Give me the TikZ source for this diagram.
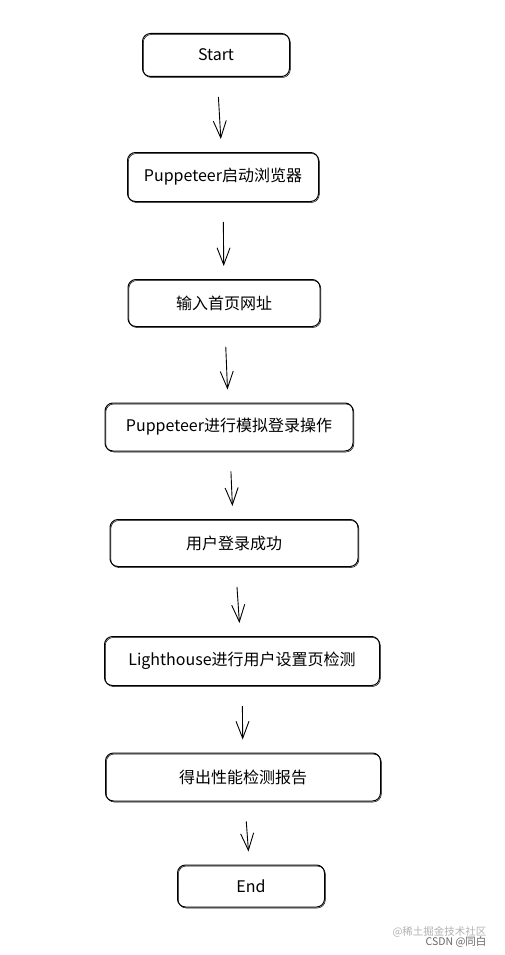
\documentclass[tikz,border=0pt]{standalone}
\usepackage{fontspec}
\setmainfont{Noto Sans CJK SC}
\usetikzlibrary{arrows.meta}
\tikzset{every node/.style={align=center}, >= {Straight Barb[length=17pt,width=13pt]}, font=\fontsize{16}{19}\selectfont}
\tikzset{stepbox/.style={draw, line width=1pt, rounded corners=8pt, inner sep=0pt,
        preaction={draw, line width=0.5pt, rounded corners=8pt, transform canvas={shift={(0.8pt,-1pt)}}}},
    flow/.style={->, line width=0.9pt, shorten <=20pt, shorten >=13pt},
    mark1/.style={font=\fontsize{10.5}{12}\selectfont, text=black!30},
    mark2/.style={font=\fontsize{10.5}{12}\selectfont, text=black!60}}

\begin{document}
\begin{tikzpicture}[x=1pt, y=-1pt]
            \useasboundingbox (0,0) rectangle (504,955);
            \node [stepbox, minimum width=147pt, minimum height=43pt] (s0) at (216,55) {Start};
            \node [stepbox, minimum width=191pt, minimum height=49pt] (s1) at (223,177) {Puppeteer启动浏览器};
            \node [stepbox, minimum width=192pt, minimum height=47pt] (s2) at (224,303) {输入首页网址};
            \node [stepbox, minimum width=248pt, minimum height=48pt] (s3) at (229,427) {Puppeteer进行模拟登录操作};
            \node [stepbox, minimum width=248pt, minimum height=47pt] (s4) at (234,543) {用户登录成功};
            \node [stepbox, minimum width=275pt, minimum height=49pt] (s5) at (242,661) {Lighthouse进行用户设置页检测};
            \node [stepbox, minimum width=275pt, minimum height=48pt] (s6) at (243,777) {得出性能检测报告};
            \node [stepbox, minimum width=147pt, minimum height=42pt] (s7) at (251,886) {End};

            \path[flow] (s0) edge (s1)
                (s1) edge (s2)
                (s2) edge (s3)
                (s3) edge (s4)
                (s4) edge (s5)
                (s5) edge (s6)
                (s6) edge (s7);

            % watermark
            \node [mark1, anchor=east] (w0) at (490,932) {@稀土掘金技术社区};
            \node [mark2, anchor=east] (w1) at (490,942) {CSDN @同白};
        \end{tikzpicture}
\end{document}
